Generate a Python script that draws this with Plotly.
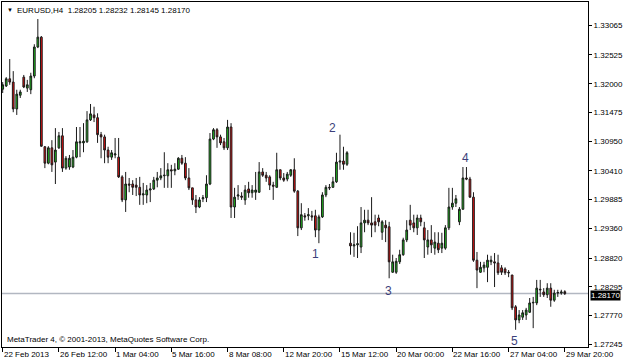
import plotly.graph_objects as go

# ---- data (EURUSD H4, 22 Feb 2013 00:00 -> 29 Mar 2013 20:00, one value per bar) ----
opens = [
1.3190,1.3196,1.3209,1.3203,1.3154,1.3179,1.3212,1.3192,1.3189,1.3214,
1.3267,1.3285,1.3085,1.3055,1.3083,1.3057,1.3083,1.3105,1.3046,1.3048,
1.3048,1.3066,1.3092,1.3092,1.3094,1.3134,1.3143,1.3138,1.3107,1.3103,
1.3079,1.3066,1.3070,1.3066,1.3030,1.2988,1.3017,1.3017,1.3015,1.3011,
1.2997,1.2997,1.3006,1.3008,1.3024,1.3028,1.3032,1.3032,1.3043,1.3041,
1.3044,1.3064,1.3055,1.3028,1.3010,1.2988,1.2975,1.2990,1.2992,1.3017,
1.3099,1.3116,1.3103,1.3094,1.3083,1.3121,1.2975,1.2995,1.2995,1.2988,
1.3008,1.3001,1.3002,1.3002,1.3039,1.3033,1.3030,1.3015,1.3011,1.3043,
1.3028,1.3026,1.3033,1.3043,1.3004,1.2937,1.2959,1.2959,1.2959,1.2959,
1.2933,1.2957,1.2997,1.3011,1.3011,1.3021,1.3057,1.3059,1.3053,1.2909,
1.2904,1.2906,1.2902,1.2946,1.2951,1.2946,1.2948,1.2955,1.2929,1.2942,
1.2939,1.2856,1.2856,1.2875,1.2888,1.2915,1.2951,1.2946,1.2937,1.2955,
1.2937,1.2902,1.2915,1.2900,1.2909,1.2900,1.2900,1.2937,1.2975,1.2982,
1.2948,1.2971,1.3028,1.3026,1.2993,1.2878,1.2856,1.2864,1.2865,1.2875,
1.2875,1.2873,1.2864,1.2862,1.2856,1.2851,1.2793,1.2769,1.2774,1.2778,
1.2783,1.2800,1.2800,1.2825,1.2820,1.2815,1.2827,1.2805,1.2818,1.2818,
1.28205]

highs = [
1.3203,1.3212,1.3245,1.3223,1.3189,1.3189,1.3216,1.3207,1.3220,1.3272,
1.3318,1.3287,1.3086,1.3086,1.3097,1.3119,1.3112,1.3119,1.3068,1.3070,
1.3079,1.3121,1.3121,1.3128,1.3150,1.3163,1.3158,1.3146,1.3112,1.3107,
1.3085,1.3079,1.3101,1.3101,1.3033,1.3039,1.3028,1.3024,1.3028,1.3030,
1.3019,1.3015,1.3019,1.3030,1.3039,1.3046,1.3075,1.3055,1.3052,1.3055,
1.3066,1.3070,1.3066,1.3046,1.3010,1.2997,1.2993,1.2997,1.3033,1.3110,
1.3119,1.3119,1.3107,1.3101,1.3134,1.3128,1.3010,1.3015,1.3002,1.3015,
1.3021,1.3015,1.3039,1.3057,1.3046,1.3039,1.3033,1.3021,1.3074,1.3043,
1.3037,1.3039,1.3044,1.3064,1.3006,1.2982,1.2964,1.2973,1.2968,1.2970,
1.2961,1.3002,1.3015,1.3017,1.3030,1.3074,1.3107,1.3085,1.3077,1.2929,
1.2928,1.2940,1.2975,1.2970,1.2970,1.2993,1.2961,1.2961,1.2951,1.2951,
1.2948,1.2888,1.2882,1.2897,1.2919,1.2951,1.2979,1.2961,1.2961,1.2961,
1.2948,1.2933,1.2942,1.2929,1.2929,1.2928,1.2942,1.3010,1.3010,1.2997,
1.2975,1.3048,1.3048,1.3030,1.3002,1.2893,1.2875,1.2875,1.2888,1.2886,
1.2891,1.2888,1.2869,1.2865,1.2860,1.2851,1.2796,1.2787,1.2787,1.2791,
1.2809,1.2811,1.2842,1.2842,1.2827,1.2836,1.2836,1.2824,1.2824,1.2824,
1.28232]

lows = [
1.3183,1.3194,1.3198,1.3148,1.3143,1.3174,1.3192,1.3185,1.3181,1.3210,
1.3265,1.3085,1.3046,1.3053,1.3039,1.3017,1.3081,1.3039,1.3043,1.3043,
1.3046,1.3064,1.3066,1.3075,1.3092,1.3132,1.3130,1.3092,1.3064,1.3055,
1.3055,1.3061,1.3064,1.3028,1.2984,1.2966,1.3002,1.2997,1.2995,1.2979,
1.2979,1.2982,1.2984,1.3006,1.3011,1.3024,1.3010,1.3010,1.3010,1.3033,
1.3043,1.3052,1.3024,1.3006,1.2979,1.2964,1.2973,1.2984,1.2984,1.3015,
1.3097,1.3083,1.3088,1.3079,1.3079,1.2955,1.2955,1.2988,1.2988,1.2979,
1.2992,1.2992,1.2988,1.3001,1.3030,1.3021,1.3006,1.2988,1.3010,1.3024,
1.3021,1.3022,1.3030,1.3001,1.2922,1.2933,1.2950,1.2951,1.2950,1.2920,
1.2909,1.2955,1.2993,1.3006,1.3010,1.3019,1.3043,1.3043,1.3050,1.2888,
1.2884,1.2882,1.2891,1.2929,1.2942,1.2920,1.2929,1.2940,1.2915,1.2911,
1.2845,1.2855,1.2853,1.2871,1.2886,1.2911,1.2933,1.2929,1.2924,1.2940,
1.2882,1.2888,1.2891,1.2888,1.2891,1.2891,1.2897,1.2933,1.2970,1.2975,
1.2942,1.2970,1.3024,1.2992,1.2875,1.2827,1.2855,1.2856,1.2838,1.2869,
1.2829,1.2851,1.2851,1.2851,1.2847,1.2787,1.2751,1.2763,1.2769,1.2769,
1.2782,1.2754,1.2796,1.2811,1.2811,1.2809,1.2793,1.2802,1.2811,1.2815,
1.28145]

closes = [
1.3198,1.3209,1.3203,1.3154,1.3181,1.3185,1.3194,1.3198,1.3214,1.3267,
1.3285,1.3086,1.3055,1.3083,1.3052,1.3079,1.3105,1.3046,1.3064,1.3064,
1.3066,1.3094,1.3094,1.3095,1.3134,1.3145,1.3138,1.3107,1.3103,1.3079,
1.3066,1.3074,1.3072,1.3030,1.2988,1.3017,1.3015,1.3011,1.3011,1.2997,
1.2999,1.3006,1.3008,1.3024,1.3028,1.3032,1.3033,1.3043,1.3041,1.3044,
1.3064,1.3055,1.3028,1.3010,1.2988,1.2975,1.2988,1.2992,1.3017,1.3099,
1.3116,1.3103,1.3092,1.3083,1.3121,1.2975,1.2993,1.2997,1.2993,1.3006,
1.3001,1.3006,1.3006,1.3039,1.3033,1.3028,1.3015,1.3013,1.3043,1.3028,
1.3024,1.3035,1.3043,1.3004,1.2937,1.2961,1.2957,1.2961,1.2957,1.2933,
1.2957,1.2997,1.3011,1.3010,1.3021,1.3057,1.3059,1.3053,1.3074,1.2904,
1.2906,1.2908,1.2946,1.2951,1.2946,1.2942,1.2942,1.2948,1.2948,1.2937,
1.2875,1.2875,1.2876,1.2888,1.2915,1.2933,1.2942,1.2937,1.2955,1.2948,
1.2915,1.2915,1.2906,1.2911,1.2897,1.2909,1.2937,1.2975,1.2982,1.2990,
1.2971,1.3028,1.3026,1.2993,1.2878,1.2860,1.2865,1.2869,1.2878,1.2878,
1.2873,1.2855,1.2856,1.2855,1.2855,1.2791,1.2769,1.2778,1.2782,1.2787,
1.2800,1.2801,1.2827,1.2824,1.2815,1.2827,1.2805,1.2818,1.2819,1.2820,
1.28170]

# time-axis labels (bar index of each label and its text)
date_ticks = [0, 16, 32, 48, 64, 80, 96, 112, 128, 144, 160]
date_labels = ["22 Feb 2013", "26 Feb 12:00", "1 Mar 04:00", "5 Mar 16:00",
               "8 Mar 08:00", "12 Mar 20:00", "15 Mar 12:00", "20 Mar 00:00",
               "22 Mar 16:00", "27 Mar 04:00", "29 Mar 20:00"]

# price-axis labels
price_ticks = [1.33065, 1.32525, 1.32000, 1.31475, 1.30950, 1.30410,
               1.29885, 1.29360, 1.28820, 1.28295, 1.27770, 1.27245]

# wave counts: (label, bar position, price)
wave_labels = ["1", "2", "3", "4", "5"]
wave_bars = [88.9, 93.8, 109.9, 131.8, 145.8]
wave_prices = [1.2889, 1.3119, 1.2821, 1.3064, 1.2731]

symbol = "EURUSD,H4"
bid = 1.28170

FONT = "Liberation Sans, Arial, sans-serif"
bars = list(range(len(opens)))

fig = go.Figure()
fig.add_trace(go.Candlestick(
    x=bars, open=opens, high=highs, low=lows, close=closes,
    increasing=dict(line=dict(color="#1a1a1a", width=1), fillcolor="#1fc41f"),
    decreasing=dict(line=dict(color="#1a1a1a", width=1), fillcolor="#e81010"),
    whiskerwidth=0, hoverinfo="skip", showlegend=False))

fig.add_shape(type="line", xref="paper", x0=0, x1=1, yref="y", y0=bid, y1=bid,
              line=dict(color="#b2b7c1", width=1.5), layer="below")

ann = []
for t, lab in zip(date_ticks, date_labels):
    ann.append(dict(x=t, y=0, xref="x", yref="paper", text=lab, showarrow=False,
                    xanchor="left", yanchor="top", xshift=-1, yshift=-1,
                    font=dict(family=FONT, size=8, color="#000")))
for lab, b, p in zip(wave_labels, wave_bars, wave_prices):
    ann.append(dict(x=b, y=p, xref="x", yref="y", text=lab, showarrow=False,
                    font=dict(family=FONT, size=12, color="#3c3f7a")))
ann.append(dict(x=1, y=bid, xref="paper", yref="y", text=f"{bid:.5f}", showarrow=False,
                xanchor="left", yanchor="middle", xshift=2, yshift=-2, bgcolor="#000",
                font=dict(family=FONT, size=8, color="#fff"), borderpad=0))
ann.append(dict(x=0, y=1, xref="paper", yref="paper", text="▼", showarrow=False,
                xanchor="left", yanchor="top", xshift=3, yshift=-3,
                font=dict(family=FONT, size=6, color="#000")))
ann.append(dict(x=0, y=1, xref="paper", yref="paper",
                text=f"{symbol}  {opens[-1]:.5f} {highs[-1]:.5f} {lows[-1]:.5f} {closes[-1]:.5f}",
                showarrow=False, xanchor="left", yanchor="top", xshift=13, yshift=-2,
                font=dict(family=FONT, size=8, color="#000")))
ann.append(dict(x=0, y=0, xref="paper", yref="paper",
                text="MetaTrader 4, © 2001-2013, MetaQuotes Software Corp.",
                showarrow=False, xanchor="left", yanchor="bottom", xshift=3, yshift=1,
                font=dict(family=FONT, size=8, color="#000")))

fig.update_layout(
    width=625, height=363, margin=dict(l=2, r=37, t=2, b=16),
    paper_bgcolor="#fff", plot_bgcolor="#fff", showlegend=False,
    annotations=ann,
    xaxis=dict(range=[-0.2, 166.6], tickvals=date_ticks, showticklabels=False,
               ticks="outside", ticklen=4, tickcolor="#000", showline=True,
               linecolor="#000", linewidth=1, mirror=True, showgrid=False,
               zeroline=False, rangeslider=dict(visible=False), fixedrange=True),
    yaxis=dict(range=[1.27196, 1.33491], side="right", tickvals=price_ticks,
               ticktext=[f"{v:.5f}" for v in price_ticks], ticks="outside",
               ticklen=3, tickcolor="#000", tickfont=dict(family=FONT, size=8, color="#000"),
               showline=True, linecolor="#000", linewidth=1, mirror=True,
               showgrid=False, zeroline=False, fixedrange=True),
)

fig.write_html("out.html")
